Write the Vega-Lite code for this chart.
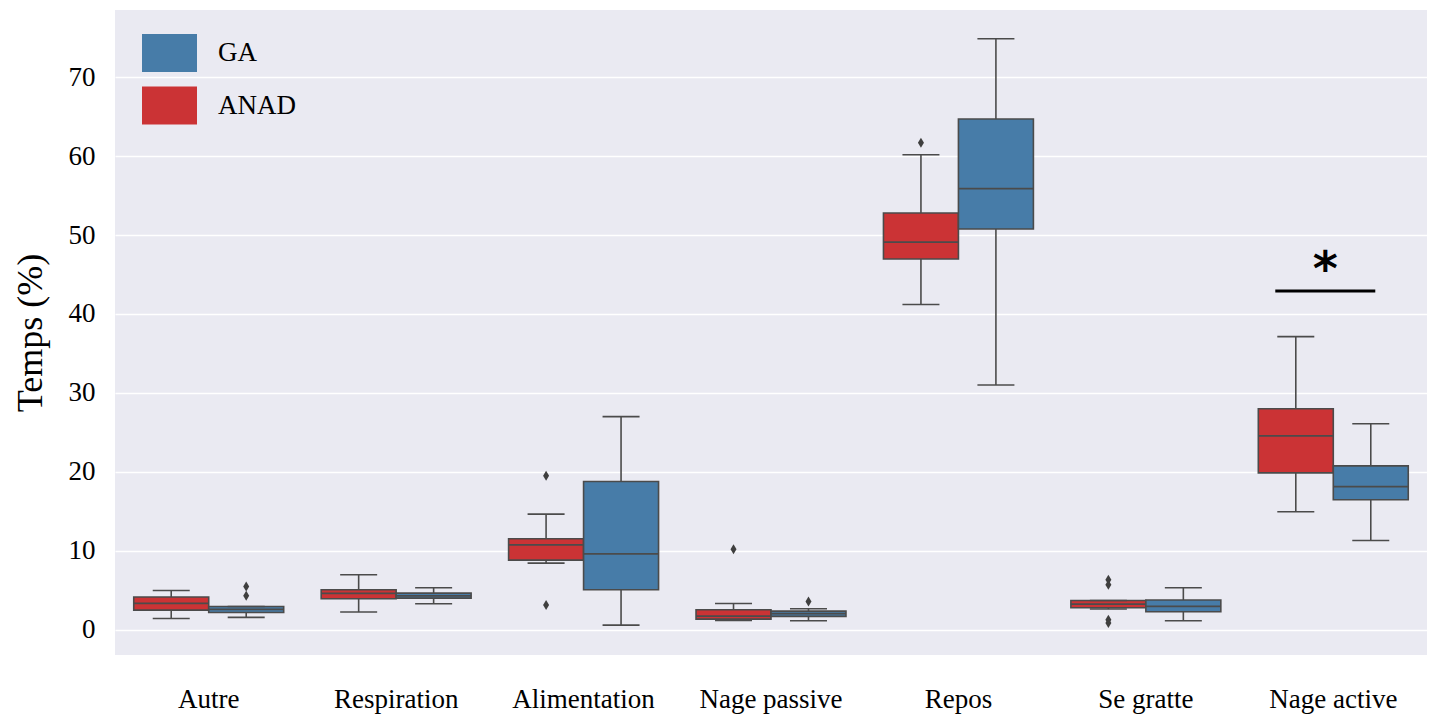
{
  "$schema": "https://vega.github.io/schema/vega-lite/v6.json",
  "width": 1312,
  "height": 645,
  "autosize": {"type": "none"},
  "padding": {"left": 115, "top": 10, "right": 6, "bottom": 61},
  "background": "white",
  "config": {
    "view": {"fill": "#EAEAF2", "stroke": null},
    "font": "Liberation Serif",
    "axis": {"labelFont": "Liberation Serif", "titleFont": "Liberation Serif", "labelColor": "#000", "titleColor": "#000"}
  },
  "datasets": {
    "stats": [
      {"cat": "Autre", "group": "ANAD", "min": 1.43, "q1": 2.49, "med": 3.33, "q3": 4.14, "max": 4.97},
      {"cat": "Autre", "group": "GA", "min": 1.56, "q1": 2.19, "med": 2.57, "q3": 2.95, "max": 2.95},
      {"cat": "Respiration", "group": "ANAD", "min": 2.24, "q1": 3.92, "med": 4.6, "q3": 5.06, "max": 6.96},
      {"cat": "Respiration", "group": "GA", "min": 3.29, "q1": 4.01, "med": 4.3, "q3": 4.64, "max": 5.32},
      {"cat": "Alimentation", "group": "ANAD", "min": 8.44, "q1": 8.82, "med": 10.76, "q3": 11.52, "max": 14.64},
      {"cat": "Alimentation", "group": "GA", "min": 0.59, "q1": 5.06, "med": 9.62, "q3": 18.78, "max": 27.0},
      {"cat": "Nage passive", "group": "ANAD", "min": 1.18, "q1": 1.35, "med": 1.73, "q3": 2.53, "max": 3.33},
      {"cat": "Nage passive", "group": "GA", "min": 1.14, "q1": 1.69, "med": 2.03, "q3": 2.36, "max": 2.66},
      {"cat": "Repos", "group": "ANAD", "min": 41.2, "q1": 46.96, "med": 49.1, "q3": 52.78, "max": 60.17},
      {"cat": "Repos", "group": "GA", "min": 31.0, "q1": 50.76, "med": 55.87, "q3": 64.7, "max": 74.85},
      {"cat": "Se gratte", "group": "ANAD", "min": 2.62, "q1": 2.78, "med": 3.25, "q3": 3.71, "max": 3.71},
      {"cat": "Se gratte", "group": "GA", "min": 1.14, "q1": 2.28, "med": 2.95, "q3": 3.76, "max": 5.32},
      {"cat": "Nage active", "group": "ANAD", "min": 14.94, "q1": 19.87, "med": 24.56, "q3": 28.0, "max": 37.13},
      {"cat": "Nage active", "group": "GA", "min": 11.3, "q1": 16.46, "med": 18.14, "q3": 20.76, "max": 26.1}
    ],
    "outliers": [
      {"cat": "Autre", "group": "GA", "value": 5.48},
      {"cat": "Autre", "group": "GA", "value": 4.3},
      {"cat": "Alimentation", "group": "ANAD", "value": 19.5},
      {"cat": "Alimentation", "group": "ANAD", "value": 3.12},
      {"cat": "Nage passive", "group": "ANAD", "value": 10.2},
      {"cat": "Nage passive", "group": "GA", "value": 3.59},
      {"cat": "Repos", "group": "ANAD", "value": 61.7},
      {"cat": "Se gratte", "group": "ANAD", "value": 6.33},
      {"cat": "Se gratte", "group": "ANAD", "value": 5.7},
      {"cat": "Se gratte", "group": "ANAD", "value": 1.27},
      {"cat": "Se gratte", "group": "ANAD", "value": 0.85}
    ],
    "signif": [
      {"cat": "Nage active", "y": 42.9, "label": "*"}
    ]
  },
  "encoding": {
    "x": {
      "field": "cat",
      "type": "nominal",
      "sort": ["Autre", "Respiration", "Alimentation", "Nage passive", "Repos", "Se gratte", "Nage active"],
      "scale": {"paddingInner": 0, "paddingOuter": 0},
      "axis": {"title": null, "labelAngle": 0, "labelFontSize": 27, "labelPadding": 31, "ticks": false, "domain": false, "grid": false}
    }
  },
  "layer": [
    {
      "data": {"name": "stats"},
      "mark": {"type": "rule", "color": "#4b4b4b", "strokeWidth": 1.6},
      "encoding": {
        "xOffset": {"field": "group", "type": "nominal", "scale": {"domain": ["ANAD", "GA"], "paddingInner": 0, "paddingOuter": 0.25}},
        "y": {
          "field": "min", "type": "quantitative",
          "scale": {"domain": [-3.2, 78.5], "nice": false, "zero": false},
          "axis": {"title": "Temps (%)", "titleFontSize": 36, "titleFontWeight": "normal", "titlePadding": 19, "labelFontSize": 27, "labelPadding": 20, "values": [0, 10, 20, 30, 40, 50, 60, 70], "ticks": false, "domain": false, "grid": true, "gridColor": "white", "gridWidth": 1.5}
        },
        "y2": {"field": "max"}
      }
    },
    {
      "data": {"name": "stats"},
      "mark": {"type": "bar", "stroke": "#4b4b4b", "strokeWidth": 1.6, "opacity": 1},
      "encoding": {
        "xOffset": {"field": "group", "type": "nominal", "scale": {"domain": ["ANAD", "GA"], "paddingInner": 0, "paddingOuter": 0.25}},
        "y": {"field": "q1", "type": "quantitative"},
        "y2": {"field": "q3"},
        "fill": {
          "field": "group", "type": "nominal",
          "scale": {"domain": ["GA", "ANAD"], "range": ["#477ca8", "#cb3335"]},
          "legend": {
            "title": null,
            "orient": "none",
            "legendX": 29.5,
            "legendY": 18,
            "symbolType": "M-1.1,-0.76H1.1V0.76H-1.1Z",
            "symbolSize": 2500,
            "symbolStrokeWidth": 0,
            "symbolOpacity": 1,
            "labelFontSize": 27,
            "labelFont": "Liberation Serif",
            "labelColor": "#000",
            "labelOffset": 23.5,
            "rowPadding": 8.5,
            "padding": 0
          }
        }
      }
    },
    {
      "data": {"name": "stats"},
      "mark": {"type": "tick", "color": "#4b4b4b", "size": 75, "thickness": 1.8, "opacity": 1},
      "encoding": {
        "xOffset": {"field": "group", "type": "nominal", "scale": {"domain": ["ANAD", "GA"], "paddingInner": 0, "paddingOuter": 0.25}},
        "y": {"field": "med", "type": "quantitative"}
      }
    },
    {
      "data": {"name": "stats"},
      "mark": {"type": "tick", "color": "#4b4b4b", "size": 37, "thickness": 1.6, "opacity": 1},
      "encoding": {
        "xOffset": {"field": "group", "type": "nominal", "scale": {"domain": ["ANAD", "GA"], "paddingInner": 0, "paddingOuter": 0.25}},
        "y": {"field": "max", "type": "quantitative"}
      }
    },
    {
      "data": {"name": "stats"},
      "mark": {"type": "tick", "color": "#4b4b4b", "size": 37, "thickness": 1.6, "opacity": 1},
      "encoding": {
        "xOffset": {"field": "group", "type": "nominal", "scale": {"domain": ["ANAD", "GA"], "paddingInner": 0, "paddingOuter": 0.25}},
        "y": {"field": "min", "type": "quantitative"}
      }
    },
    {
      "data": {"name": "outliers"},
      "mark": {"type": "point", "shape": "M0,-1L0.6,0L0,1L-0.6,0Z", "size": 100, "filled": true, "color": "#3f3f3f", "opacity": 1},
      "encoding": {
        "xOffset": {"field": "group", "type": "nominal", "scale": {"domain": ["ANAD", "GA"], "paddingInner": 0, "paddingOuter": 0.25}},
        "y": {"field": "value", "type": "quantitative"}
      }
    },
    {
      "data": {"name": "signif"},
      "mark": {"type": "tick", "color": "black", "size": 100, "thickness": 3, "xOffset": -8, "opacity": 1},
      "encoding": {
        "y": {"field": "y", "type": "quantitative"}
      }
    },
    {
      "data": {"name": "signif"},
      "mark": {"type": "text", "font": "DejaVu Sans", "fontWeight": "bold", "fontSize": 48, "baseline": "alphabetic", "dy": -6, "dx": -8, "color": "black"},
      "encoding": {
        "y": {"field": "y", "type": "quantitative"},
        "text": {"field": "label"}
      }
    }
  ]
}
